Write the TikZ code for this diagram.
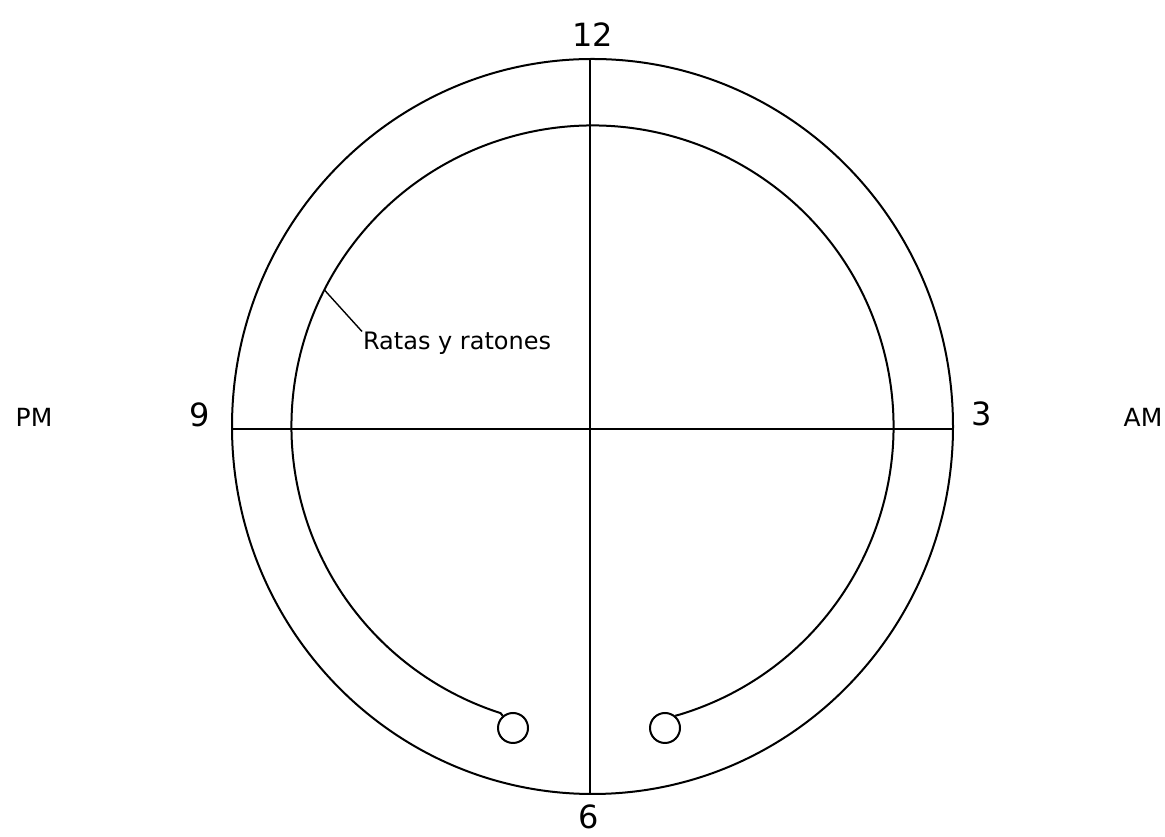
\documentclass[tikz,border=0pt]{standalone}
\usepackage{fontspec}
\setmainfont{DejaVu Sans}
\usetikzlibrary{calc}

\begin{document}
\begin{tikzpicture}[x=1pt,y=1pt,line width=2pt,
  hour/.style={font=\fontsize{32}{32}\selectfont,inner sep=0pt},
  half/.style={font=\fontsize{25}{25}\selectfont,inner sep=0pt},
  hole/.style={draw,circle,minimum size=30pt,inner sep=0pt}]
  \useasboundingbox (0,0) rectangle (1165,837);
  \coordinate (c) at (592.5,410.5);
  % dial
  \draw (c) ellipse [x radius=360.5, y radius=367.5];
  \coordinate (w) at (232,408);
  \coordinate (e) at (953,408);
  \coordinate (n) at (590,778);
  \coordinate (s) at (590,43);
  \draw (w) -- (e);
  \draw (n) -- (s);
  % track
  \node[hole] (hl) at (513,109) {};
  \node[hole] (hr) at (665,109) {};
  \coordinate (tr) at ($(c)+(-73.4:301)$);
  \coordinate (tl) at ($(c)+(252.2:301)$);
  \draw (hr.50) -- (tr) arc[start angle=-73.4, end angle=252.2, radius=301] -- (hl.130);
  % labels
  \node[hour] (h12) at (593,802) {12};
  \node[hour] (h3) at (982,423) {3};
  \node[hour] (h6) at (589,20) {6};
  \node[hour] (h9) at (200,422) {9};
  \node[half] (pm) at (34,420) {PM};
  \node[half] (am) at (1143,420) {AM};
  \coordinate (tip) at ($(c)+(153:301)$);
  \node[font=\fontsize{24}{24}\selectfont,inner sep=0pt,anchor=base west] (rats) at (362,487) {Ratas y ratones};
  \draw[line width=1.4pt] (tip) -- (rats.north west);
\end{tikzpicture}
\end{document}
